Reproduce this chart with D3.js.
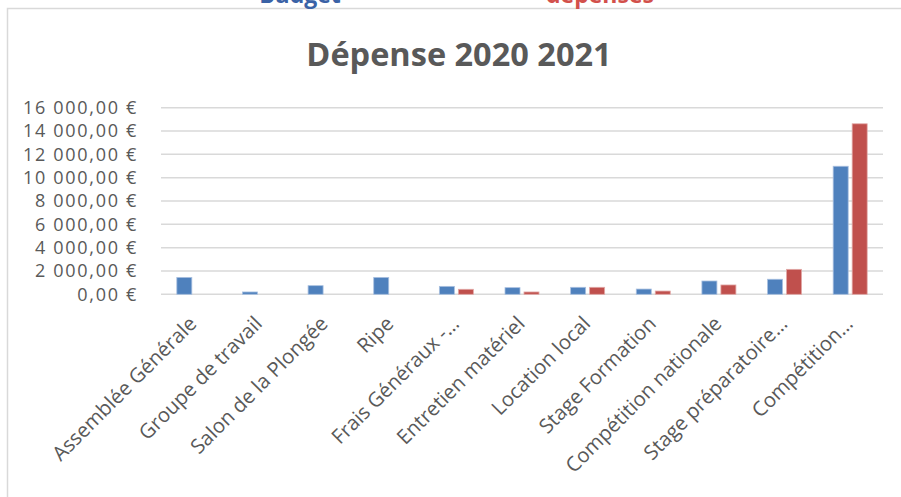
<!DOCTYPE html>
<html>
<head>
<meta charset="utf-8">
<script src="https://cdn.jsdelivr.net/npm/d3@7"></script>
<style>
  html, body { margin: 0; padding: 0; background: #fff; }
  svg { display: block; }
  text { font-family: "Open Sans", "Noto Sans", sans-serif; }
</style>
</head>
<body>
<svg id="chart" width="901" height="497"></svg>
<script>
const categories = [
  "Assemblée Générale", "Groupe de travail", "Salon de la Plongée", "Ripe",
  "Frais Généraux -…", "Entretien matériel", "Location local", "Stage Formation",
  "Compétition nationale", "Stage préparatoire…", "Compétition…"
];
const seriesNames = ["Budget", "dépenses"];
const budget   = [1450, 200, 740, 1450, 680, 570, 600, 450, 1140, 1290, 10980];
const depenses = [0, 0, 0, 0, 430, 200, 600, 280, 800, 2140, 14620];
const yTicks = [0, 2000, 4000, 6000, 8000, 10000, 12000, 14000, 16000];
const title = "Dépense 2020 2021";

const colors = { "Budget": "#4F81BD", "dépenses": "#C0504D" };
const strokes = { "Budget": "#A9C0E0", "dépenses": "#E2A9A7" };
const legendColors = { "Budget": "#3A62A6", "dépenses": "#D2504B" };

const svg = d3.select("#chart");

// outer frame
svg.append("rect")
  .attr("x", 7.5).attr("y", 8.5)
  .attr("width", 1000).attr("height", 1000)
  .attr("fill", "none").attr("stroke", "#D9D9D9").attr("stroke-width", 1.5);

// clipped header texts above the chart
const headerX = { "Budget": 300, "dépenses": 600 };
svg.selectAll("text.hdr").data(seriesNames).enter().append("text")
  .attr("class", "hdr")
  .attr("x", d => headerX[d]).attr("y", 3)
  .attr("text-anchor", "middle")
  .attr("font-weight", 700).attr("font-size", 23)
  .attr("fill", d => legendColors[d])
  .text(d => d);

// title
svg.append("text")
  .attr("x", 459).attr("y", 66)
  .attr("text-anchor", "middle")
  .attr("font-weight", 700).attr("font-size", 32.5)
  .attr("fill", "#595959")
  .text(title);

const x0 = d3.scaleBand().domain(categories).range([161, 883]).paddingInner(0).paddingOuter(0);
const bw = x0.bandwidth();
const x1 = d3.scaleBand().domain(seriesNames).range([bw / 2 - 17, bw / 2 + 17]).paddingInner(0.21);
const y = d3.scaleLinear().domain([0, 16000]).range([294.3, 107.7]);

const fmt = v => d3.format(",.2f")(v).replace(/,/g, " ").replace(".", ",") + " €";

// gridlines
svg.append("g").selectAll("line").data(yTicks).enter().append("line")
  .attr("x1", 161).attr("x2", 883)
  .attr("y1", d => y(d)).attr("y2", d => y(d))
  .attr("stroke", "#D9D9D9").attr("stroke-width", 1.5);

// y axis labels
const yAxis = d3.axisLeft(y).tickValues(yTicks).tickFormat(fmt).tickSize(0).tickPadding(0);
const gy = svg.append("g").attr("transform", "translate(138,0)").call(yAxis);
gy.select(".domain").remove();
gy.selectAll("text")
  .attr("font-family", "Lato, 'Open Sans', sans-serif")
  .attr("font-size", 18)
  .attr("letter-spacing", 1.7)
  .attr("fill", "#595959");

// bars
const data = categories.map((c, i) => ({ cat: c, values: [
  { key: "Budget", value: budget[i] },
  { key: "dépenses", value: depenses[i] }
]}));

const groups = svg.append("g").selectAll("g").data(data).enter().append("g")
  .attr("transform", d => `translate(${x0(d.cat)},0)`);
groups.selectAll("rect").data(d => d.values.filter(v => v.value > 0)).enter().append("rect")
  .attr("x", d => x1(d.key))
  .attr("width", x1.bandwidth())
  .attr("y", d => y(d.value))
  .attr("height", d => y(0) - y(d.value))
  .attr("fill", d => colors[d.key])
  .attr("stroke", d => strokes[d.key])
  .attr("stroke-width", 0.8);

// category labels
svg.append("g").selectAll("text").data(categories).enter().append("text")
  .attr("transform", d => `translate(${x0(d) + bw / 2 + 4},${325}) rotate(-45)`)
  .attr("text-anchor", "end")
  .attr("font-size", 20.3)
  .attr("fill", "#595959")
  .text(d => d);
</script>
</body>
</html>
